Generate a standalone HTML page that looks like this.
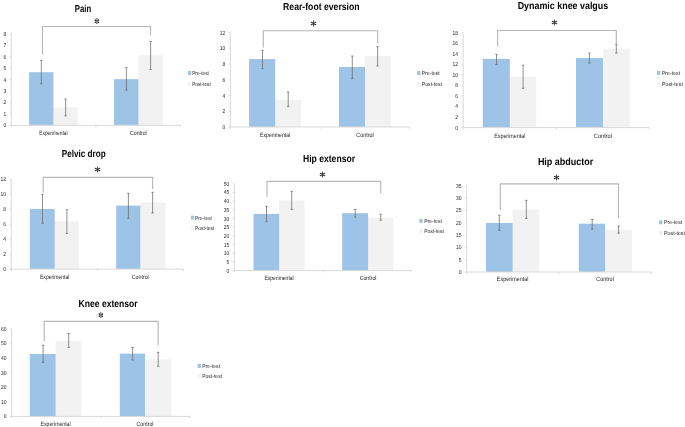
<!DOCTYPE html><html><head><meta charset="utf-8"><style>html,body{margin:0;padding:0;background:#fff;width:685px;height:427px;overflow:hidden}svg{display:block;will-change:transform}text{font-family:"Liberation Sans",sans-serif;text-rendering:geometricPrecision}</style></head><body>
<svg width="685" height="427" viewBox="0 0 685 427">
<rect width="685" height="427" fill="#fff"/>
<g><rect x="53.4" y="107.4" width="24.3" height="17.9" fill="#f2f2f2"/><rect x="52.4" y="107.4" width="1.2" height="17.9" fill="#f2f2f2"/><rect x="29.1" y="72.2" width="24.3" height="53.1" fill="#9dc3e6"/><rect x="138.4" y="55.2" width="24.4" height="70.1" fill="#f2f2f2"/><rect x="137.4" y="79.2" width="1.2" height="46.1" fill="#f2f2f2"/><rect x="114.1" y="79.2" width="24.3" height="46.1" fill="#9dc3e6"/><path d="M11.25 33.7V125.3M9.75 125.3H180.4" stroke="#d9d9d9" stroke-width="1" fill="none"/><path d="M9.75 33.7H11.25M9.75 45.15H11.25M9.75 56.6H11.25M9.75 68.05H11.25M9.75 79.5H11.25M9.75 90.95H11.25M9.75 102.4H11.25M9.75 113.85H11.25M9.75 125.3H11.25M11.25 125.3V127.1M95.9 125.3V127.1M180.4 125.3V127.1" stroke="#d9d9d9" stroke-width="1" fill="none"/><text x="6.15" y="127.3" font-size="5.8" fill="#262626" text-anchor="end" textLength="2.75" lengthAdjust="spacingAndGlyphs">0</text><text x="6.15" y="115.85" font-size="5.8" fill="#262626" text-anchor="end" textLength="2.75" lengthAdjust="spacingAndGlyphs">1</text><text x="6.15" y="104.4" font-size="5.8" fill="#262626" text-anchor="end" textLength="2.75" lengthAdjust="spacingAndGlyphs">2</text><text x="6.15" y="92.95" font-size="5.8" fill="#262626" text-anchor="end" textLength="2.75" lengthAdjust="spacingAndGlyphs">3</text><text x="6.15" y="81.5" font-size="5.8" fill="#262626" text-anchor="end" textLength="2.75" lengthAdjust="spacingAndGlyphs">4</text><text x="6.15" y="70.05" font-size="5.8" fill="#262626" text-anchor="end" textLength="2.75" lengthAdjust="spacingAndGlyphs">5</text><text x="6.15" y="58.6" font-size="5.8" fill="#262626" text-anchor="end" textLength="2.75" lengthAdjust="spacingAndGlyphs">6</text><text x="6.15" y="47.15" font-size="5.8" fill="#262626" text-anchor="end" textLength="2.75" lengthAdjust="spacingAndGlyphs">7</text><text x="6.15" y="35.7" font-size="5.8" fill="#262626" text-anchor="end" textLength="2.75" lengthAdjust="spacingAndGlyphs">8</text><path d="M41.3 60.4V83.9M40.1 60.4H42.5M40.1 83.9H42.5" stroke="#6a6a6a" stroke-width="0.75" fill="none"/><path d="M65.6 99V115.9M64.4 99H66.8M64.4 115.9H66.8" stroke="#6a6a6a" stroke-width="0.75" fill="none"/><path d="M126.4 67.7V90.2M125.2 67.7H127.6M125.2 90.2H127.6" stroke="#6a6a6a" stroke-width="0.75" fill="none"/><path d="M150.6 41.5V69.6M149.4 41.5H151.8M149.4 69.6H151.8" stroke="#6a6a6a" stroke-width="0.75" fill="none"/><path d="M42.5 54.6V26.5H150.5V35.5" stroke="#b8b8b8" stroke-width="1.15" fill="none"/><path d="M96.8 18.5V23.6M95.3 20.15L98.3 22.25M98.3 20.15L95.3 22.25" stroke="#5a5a5a" stroke-width="0.7" fill="none"/><g fill="#1e1e1e"><circle cx="95.35" cy="20.15" r="0.8"/><circle cx="98.25" cy="20.15" r="0.8"/><circle cx="95.35" cy="22.25" r="0.8"/><circle cx="98.25" cy="22.25" r="0.8"/></g><g fill="#666"><circle cx="96.8" cy="18.7" r="0.65"/><circle cx="96.8" cy="23.4" r="0.65"/></g><text x="74.8" y="11.7" font-size="10.2" font-weight="bold" fill="#000" textLength="16.3" lengthAdjust="spacingAndGlyphs">Pain</text><rect x="187.9" y="71.05" width="3.3" height="3.9" fill="#9dc3e6"/><rect x="187.9" y="81.85" width="3.3" height="3.9" fill="#f2f2f2"/><text x="192.2" y="75.05" font-size="5.7" fill="#262626" textLength="16.7" lengthAdjust="spacingAndGlyphs">Pre-test</text><text x="192.2" y="85.85" font-size="5.7" fill="#262626" textLength="18.6" lengthAdjust="spacingAndGlyphs">Post-test</text><text x="39.3" y="135.1" font-size="6.2" fill="#262626" textLength="28.2" lengthAdjust="spacingAndGlyphs">Experimental</text><text x="130.05" y="135.1" font-size="6.2" fill="#262626" textLength="16.7" lengthAdjust="spacingAndGlyphs">Control</text></g>
<g><rect x="275.2" y="99.8" width="25.9" height="27.2" fill="#f2f2f2"/><rect x="274.2" y="99.8" width="1.2" height="27.2" fill="#f2f2f2"/><rect x="249.1" y="59.1" width="26.1" height="67.9" fill="#9dc3e6"/><rect x="365" y="56" width="25.8" height="71" fill="#f2f2f2"/><rect x="364" y="67" width="1.2" height="60" fill="#f2f2f2"/><rect x="339" y="67" width="26" height="60" fill="#9dc3e6"/><path d="M230.3 32.5V127M228.8 127H409.5" stroke="#d9d9d9" stroke-width="1" fill="none"/><path d="M228.8 32.5H230.3M228.8 48.25H230.3M228.8 64H230.3M228.8 79.75H230.3M228.8 95.5H230.3M228.8 111.25H230.3M228.8 127H230.3M230.3 127V128.8M320.1 127V128.8M409.5 127V128.8" stroke="#d9d9d9" stroke-width="1" fill="none"/><text x="225.2" y="129" font-size="5.8" fill="#262626" text-anchor="end" textLength="2.75" lengthAdjust="spacingAndGlyphs">0</text><text x="225.2" y="113.25" font-size="5.8" fill="#262626" text-anchor="end" textLength="2.75" lengthAdjust="spacingAndGlyphs">2</text><text x="225.2" y="97.5" font-size="5.8" fill="#262626" text-anchor="end" textLength="2.75" lengthAdjust="spacingAndGlyphs">4</text><text x="225.2" y="81.75" font-size="5.8" fill="#262626" text-anchor="end" textLength="2.75" lengthAdjust="spacingAndGlyphs">6</text><text x="225.2" y="66" font-size="5.8" fill="#262626" text-anchor="end" textLength="2.75" lengthAdjust="spacingAndGlyphs">8</text><text x="225.2" y="50.25" font-size="5.8" fill="#262626" text-anchor="end" textLength="5.5" lengthAdjust="spacingAndGlyphs">10</text><text x="225.2" y="34.5" font-size="5.8" fill="#262626" text-anchor="end" textLength="5.5" lengthAdjust="spacingAndGlyphs">12</text><path d="M262.5 50.3V68.6M261.3 50.3H263.7M261.3 68.6H263.7" stroke="#6a6a6a" stroke-width="0.75" fill="none"/><path d="M288.2 92.1V106.6M287 92.1H289.4M287 106.6H289.4" stroke="#6a6a6a" stroke-width="0.75" fill="none"/><path d="M352.3 56V78.7M351.1 56H353.5M351.1 78.7H353.5" stroke="#6a6a6a" stroke-width="0.75" fill="none"/><path d="M377.6 46.7V66M376.4 46.7H378.8M376.4 66H378.8" stroke="#6a6a6a" stroke-width="0.75" fill="none"/><path d="M263.3 47.7V30.7H377.6V43.1" stroke="#b8b8b8" stroke-width="1.15" fill="none"/><path d="M313.5 20.9V26.1" stroke="#4a4a4a" stroke-width="1" stroke-linecap="round" fill="none"/><path d="M311.25 22.2L315.75 24.8M315.75 22.2L311.25 24.8" stroke="#2a2a2a" stroke-width="1.05" stroke-linecap="round" fill="none"/><text x="283.1" y="9.8" font-size="10.2" font-weight="bold" fill="#000" textLength="76.5" lengthAdjust="spacingAndGlyphs">Rear-foot eversion</text><rect x="417.1" y="71.05" width="3.3" height="3.9" fill="#9dc3e6"/><rect x="417.1" y="82.25" width="3.3" height="3.9" fill="#f2f2f2"/><text x="421.8" y="75.05" font-size="5.7" fill="#262626" textLength="18" lengthAdjust="spacingAndGlyphs">Pre-test</text><text x="421.8" y="86.25" font-size="5.7" fill="#262626" textLength="20.3" lengthAdjust="spacingAndGlyphs">Post-test</text><text x="260.05" y="137" font-size="6.2" fill="#262626" textLength="30.3" lengthAdjust="spacingAndGlyphs">Experimental</text><text x="356.25" y="137" font-size="6.2" fill="#262626" textLength="17.5" lengthAdjust="spacingAndGlyphs">Control</text></g>
<g><rect x="509.8" y="76.8" width="26.4" height="50.8" fill="#f2f2f2"/><rect x="508.8" y="76.8" width="1.2" height="50.8" fill="#f2f2f2"/><rect x="482.8" y="58.9" width="27" height="68.7" fill="#9dc3e6"/><rect x="602.9" y="48.7" width="26.9" height="78.9" fill="#f2f2f2"/><rect x="601.9" y="58.1" width="1.2" height="69.5" fill="#f2f2f2"/><rect x="576" y="58.1" width="26.9" height="69.5" fill="#9dc3e6"/><path d="M463.2 32.6V127.6M461.7 127.6H649.3" stroke="#d9d9d9" stroke-width="1" fill="none"/><path d="M461.7 32.6H463.2M461.7 43.16H463.2M461.7 53.71H463.2M461.7 64.27H463.2M461.7 74.82H463.2M461.7 85.38H463.2M461.7 95.93H463.2M461.7 106.49H463.2M461.7 117.04H463.2M461.7 127.6H463.2M463.2 127.6V129.4M556.4 127.6V129.4M649.3 127.6V129.4" stroke="#d9d9d9" stroke-width="1" fill="none"/><text x="458.1" y="129.6" font-size="5.8" fill="#262626" text-anchor="end" textLength="2.75" lengthAdjust="spacingAndGlyphs">0</text><text x="458.1" y="119.04" font-size="5.8" fill="#262626" text-anchor="end" textLength="2.75" lengthAdjust="spacingAndGlyphs">2</text><text x="458.1" y="108.49" font-size="5.8" fill="#262626" text-anchor="end" textLength="2.75" lengthAdjust="spacingAndGlyphs">4</text><text x="458.1" y="97.93" font-size="5.8" fill="#262626" text-anchor="end" textLength="2.75" lengthAdjust="spacingAndGlyphs">6</text><text x="458.1" y="87.38" font-size="5.8" fill="#262626" text-anchor="end" textLength="2.75" lengthAdjust="spacingAndGlyphs">8</text><text x="458.1" y="76.82" font-size="5.8" fill="#262626" text-anchor="end" textLength="5.5" lengthAdjust="spacingAndGlyphs">10</text><text x="458.1" y="66.27" font-size="5.8" fill="#262626" text-anchor="end" textLength="5.5" lengthAdjust="spacingAndGlyphs">12</text><text x="458.1" y="55.71" font-size="5.8" fill="#262626" text-anchor="end" textLength="5.5" lengthAdjust="spacingAndGlyphs">14</text><text x="458.1" y="45.16" font-size="5.8" fill="#262626" text-anchor="end" textLength="5.5" lengthAdjust="spacingAndGlyphs">16</text><text x="458.1" y="34.6" font-size="5.8" fill="#262626" text-anchor="end" textLength="5.5" lengthAdjust="spacingAndGlyphs">18</text><path d="M496.5 54.3V64.5M495.3 54.3H497.7M495.3 64.5H497.7" stroke="#6a6a6a" stroke-width="0.75" fill="none"/><path d="M523.1 65.2V88.3M521.9 65.2H524.3M521.9 88.3H524.3" stroke="#6a6a6a" stroke-width="0.75" fill="none"/><path d="M589.4 53.1V63.1M588.2 53.1H590.6M588.2 63.1H590.6" stroke="#6a6a6a" stroke-width="0.75" fill="none"/><path d="M616.3 44.3V53.1M615.1 44.3H617.5M615.1 53.1H617.5" stroke="#6a6a6a" stroke-width="0.75" fill="none"/><path d="M497.6 46.6V30.5H616.3V44.1" stroke="#b8b8b8" stroke-width="1.15" fill="none"/><path d="M554.5 19.9V25.1" stroke="#4a4a4a" stroke-width="1" stroke-linecap="round" fill="none"/><path d="M552.25 21.2L556.75 23.8M556.75 21.2L552.25 23.8" stroke="#2a2a2a" stroke-width="1.05" stroke-linecap="round" fill="none"/><text x="517.7" y="9" font-size="10.2" font-weight="bold" fill="#000" textLength="90.5" lengthAdjust="spacingAndGlyphs">Dynamic knee valgus</text><rect x="657" y="70.95" width="3.3" height="3.9" fill="#9dc3e6"/><rect x="657" y="82.35" width="3.3" height="3.9" fill="#f2f2f2"/><text x="661.9" y="74.95" font-size="5.7" fill="#262626" textLength="18.2" lengthAdjust="spacingAndGlyphs">Pre-test</text><text x="661.9" y="86.35" font-size="5.7" fill="#262626" textLength="21" lengthAdjust="spacingAndGlyphs">Post-test</text><text x="494.15" y="137.6" font-size="6.2" fill="#262626" textLength="31.3" lengthAdjust="spacingAndGlyphs">Experimental</text><text x="593.85" y="137.6" font-size="6.2" fill="#262626" textLength="18.1" lengthAdjust="spacingAndGlyphs">Control</text></g>
<g><rect x="54.7" y="221.5" width="24.1" height="47.6" fill="#f2f2f2"/><rect x="53.7" y="221.5" width="1.2" height="47.6" fill="#f2f2f2"/><rect x="29.9" y="209" width="24.8" height="60.1" fill="#9dc3e6"/><rect x="140.3" y="202.5" width="25.2" height="66.6" fill="#f2f2f2"/><rect x="139.3" y="205.6" width="1.2" height="63.5" fill="#f2f2f2"/><rect x="116.2" y="205.6" width="24.1" height="63.5" fill="#9dc3e6"/><path d="M11.2 179.4V269.1M9.7 269.1H183.5" stroke="#d9d9d9" stroke-width="1" fill="none"/><path d="M9.7 179.4H11.2M9.7 194.35H11.2M9.7 209.3H11.2M9.7 224.25H11.2M9.7 239.2H11.2M9.7 254.15H11.2M9.7 269.1H11.2M11.2 269.1V270.9M97.5 269.1V270.9M183.5 269.1V270.9" stroke="#d9d9d9" stroke-width="1" fill="none"/><text x="6.1" y="271.1" font-size="5.8" fill="#262626" text-anchor="end" textLength="2.75" lengthAdjust="spacingAndGlyphs">0</text><text x="6.1" y="256.15" font-size="5.8" fill="#262626" text-anchor="end" textLength="2.75" lengthAdjust="spacingAndGlyphs">2</text><text x="6.1" y="241.2" font-size="5.8" fill="#262626" text-anchor="end" textLength="2.75" lengthAdjust="spacingAndGlyphs">4</text><text x="6.1" y="226.25" font-size="5.8" fill="#262626" text-anchor="end" textLength="2.75" lengthAdjust="spacingAndGlyphs">6</text><text x="6.1" y="211.3" font-size="5.8" fill="#262626" text-anchor="end" textLength="2.75" lengthAdjust="spacingAndGlyphs">8</text><text x="6.1" y="196.35" font-size="5.8" fill="#262626" text-anchor="end" textLength="5.5" lengthAdjust="spacingAndGlyphs">10</text><text x="6.1" y="181.4" font-size="5.8" fill="#262626" text-anchor="end" textLength="5.5" lengthAdjust="spacingAndGlyphs">12</text><path d="M42.5 194.4V223.2M41.3 194.4H43.7M41.3 223.2H43.7" stroke="#6a6a6a" stroke-width="0.75" fill="none"/><path d="M66.9 209.7V233.4M65.7 209.7H68.1M65.7 233.4H68.1" stroke="#6a6a6a" stroke-width="0.75" fill="none"/><path d="M128.4 193.3V218.2M127.2 193.3H129.6M127.2 218.2H129.6" stroke="#6a6a6a" stroke-width="0.75" fill="none"/><path d="M152.6 192.3V213M151.4 192.3H153.8M151.4 213H153.8" stroke="#6a6a6a" stroke-width="0.75" fill="none"/><path d="M43.2 192.8V177.4H152.6V189.3" stroke="#b8b8b8" stroke-width="1.15" fill="none"/><path d="M97.5 166.9V172.1" stroke="#4a4a4a" stroke-width="1" stroke-linecap="round" fill="none"/><path d="M95.25 168.2L99.75 170.8M99.75 168.2L95.25 170.8" stroke="#2a2a2a" stroke-width="1.05" stroke-linecap="round" fill="none"/><text x="61.8" y="157.1" font-size="10.2" font-weight="bold" fill="#000" textLength="43.8" lengthAdjust="spacingAndGlyphs">Pelvic drop</text><rect x="190.9" y="215.65" width="3.3" height="3.9" fill="#9dc3e6"/><rect x="190.9" y="226.25" width="3.3" height="3.9" fill="#f2f2f2"/><text x="195.1" y="219.65" font-size="5.7" fill="#262626" textLength="16.8" lengthAdjust="spacingAndGlyphs">Pre-test</text><text x="195.1" y="230.25" font-size="5.7" fill="#262626" textLength="19.1" lengthAdjust="spacingAndGlyphs">Post-test</text><text x="40" y="278.9" font-size="6.2" fill="#262626" textLength="29.4" lengthAdjust="spacingAndGlyphs">Experimental</text><text x="131.8" y="278.9" font-size="6.2" fill="#262626" textLength="17" lengthAdjust="spacingAndGlyphs">Control</text></g>
<g><rect x="279.1" y="200.3" width="25.6" height="70.3" fill="#f2f2f2"/><rect x="278.1" y="213.9" width="1.2" height="56.7" fill="#f2f2f2"/><rect x="253.5" y="213.9" width="25.6" height="56.7" fill="#9dc3e6"/><rect x="368.1" y="217.8" width="25.2" height="52.8" fill="#f2f2f2"/><rect x="367.1" y="217.8" width="1.2" height="52.8" fill="#f2f2f2"/><rect x="342.2" y="213.2" width="25.9" height="57.4" fill="#9dc3e6"/><path d="M234.3 183.8V270.6M232.8 270.6H411.2" stroke="#d9d9d9" stroke-width="1" fill="none"/><path d="M232.8 183.8H234.3M232.8 192.48H234.3M232.8 201.16H234.3M232.8 209.84H234.3M232.8 218.52H234.3M232.8 227.2H234.3M232.8 235.88H234.3M232.8 244.56H234.3M232.8 253.24H234.3M232.8 261.92H234.3M232.8 270.6H234.3M234.3 270.6V272.4M323.3 270.6V272.4M411.2 270.6V272.4" stroke="#d9d9d9" stroke-width="1" fill="none"/><text x="229.2" y="272.6" font-size="5.8" fill="#262626" text-anchor="end" textLength="2.75" lengthAdjust="spacingAndGlyphs">0</text><text x="229.2" y="263.92" font-size="5.8" fill="#262626" text-anchor="end" textLength="2.75" lengthAdjust="spacingAndGlyphs">5</text><text x="229.2" y="255.24" font-size="5.8" fill="#262626" text-anchor="end" textLength="5.5" lengthAdjust="spacingAndGlyphs">10</text><text x="229.2" y="246.56" font-size="5.8" fill="#262626" text-anchor="end" textLength="5.5" lengthAdjust="spacingAndGlyphs">15</text><text x="229.2" y="237.88" font-size="5.8" fill="#262626" text-anchor="end" textLength="5.5" lengthAdjust="spacingAndGlyphs">20</text><text x="229.2" y="229.2" font-size="5.8" fill="#262626" text-anchor="end" textLength="5.5" lengthAdjust="spacingAndGlyphs">25</text><text x="229.2" y="220.52" font-size="5.8" fill="#262626" text-anchor="end" textLength="5.5" lengthAdjust="spacingAndGlyphs">30</text><text x="229.2" y="211.84" font-size="5.8" fill="#262626" text-anchor="end" textLength="5.5" lengthAdjust="spacingAndGlyphs">35</text><text x="229.2" y="203.16" font-size="5.8" fill="#262626" text-anchor="end" textLength="5.5" lengthAdjust="spacingAndGlyphs">40</text><text x="229.2" y="194.48" font-size="5.8" fill="#262626" text-anchor="end" textLength="5.5" lengthAdjust="spacingAndGlyphs">45</text><text x="229.2" y="185.8" font-size="5.8" fill="#262626" text-anchor="end" textLength="5.5" lengthAdjust="spacingAndGlyphs">50</text><path d="M266.5 206.4V221.6M265.3 206.4H267.7M265.3 221.6H267.7" stroke="#6a6a6a" stroke-width="0.75" fill="none"/><path d="M291.7 191.4V209.4M290.5 191.4H292.9M290.5 209.4H292.9" stroke="#6a6a6a" stroke-width="0.75" fill="none"/><path d="M355.2 209.4V217.1M354 209.4H356.4M354 217.1H356.4" stroke="#6a6a6a" stroke-width="0.75" fill="none"/><path d="M380.7 214.3V220.2M379.5 214.3H381.9M379.5 220.2H381.9" stroke="#6a6a6a" stroke-width="0.75" fill="none"/><path d="M267 197V181.3H380.7V193.3" stroke="#b8b8b8" stroke-width="1.15" fill="none"/><path d="M322.5 171.9V177.1" stroke="#4a4a4a" stroke-width="1" stroke-linecap="round" fill="none"/><path d="M320.25 173.2L324.75 175.8M324.75 173.2L320.25 175.8" stroke="#2a2a2a" stroke-width="1.05" stroke-linecap="round" fill="none"/><text x="303" y="162" font-size="10.2" font-weight="bold" fill="#000" textLength="52" lengthAdjust="spacingAndGlyphs">Hip extensor</text><rect x="419.3" y="218.95" width="3.3" height="3.9" fill="#9dc3e6"/><rect x="419.3" y="229.25" width="3.3" height="3.9" fill="#f2f2f2"/><text x="424.2" y="222.95" font-size="5.7" fill="#262626" textLength="17.7" lengthAdjust="spacingAndGlyphs">Pre-test</text><text x="424.2" y="233.25" font-size="5.7" fill="#262626" textLength="19.8" lengthAdjust="spacingAndGlyphs">Post-test</text><text x="264.5" y="280" font-size="6.2" fill="#262626" textLength="29.2" lengthAdjust="spacingAndGlyphs">Experimental</text><text x="359.65" y="280" font-size="6.2" fill="#262626" textLength="16.9" lengthAdjust="spacingAndGlyphs">Control</text></g>
<g><rect x="512.6" y="209.7" width="26.6" height="62.3" fill="#f2f2f2"/><rect x="511.6" y="223" width="1.2" height="49" fill="#f2f2f2"/><rect x="486" y="223" width="26.6" height="49" fill="#9dc3e6"/><rect x="605.1" y="229.7" width="27" height="42.3" fill="#f2f2f2"/><rect x="604.1" y="229.7" width="1.2" height="42.3" fill="#f2f2f2"/><rect x="578.8" y="223.7" width="26.3" height="48.3" fill="#9dc3e6"/><path d="M466.7 185.5V272M465.2 272H651.7" stroke="#d9d9d9" stroke-width="1" fill="none"/><path d="M465.2 185.5H466.7M465.2 197.86H466.7M465.2 210.21H466.7M465.2 222.57H466.7M465.2 234.93H466.7M465.2 247.29H466.7M465.2 259.64H466.7M465.2 272H466.7M466.7 272V273.8M558.9 272V273.8M651.7 272V273.8" stroke="#d9d9d9" stroke-width="1" fill="none"/><text x="461.6" y="274" font-size="5.8" fill="#262626" text-anchor="end" textLength="2.75" lengthAdjust="spacingAndGlyphs">0</text><text x="461.6" y="261.64" font-size="5.8" fill="#262626" text-anchor="end" textLength="2.75" lengthAdjust="spacingAndGlyphs">5</text><text x="461.6" y="249.29" font-size="5.8" fill="#262626" text-anchor="end" textLength="5.5" lengthAdjust="spacingAndGlyphs">10</text><text x="461.6" y="236.93" font-size="5.8" fill="#262626" text-anchor="end" textLength="5.5" lengthAdjust="spacingAndGlyphs">15</text><text x="461.6" y="224.57" font-size="5.8" fill="#262626" text-anchor="end" textLength="5.5" lengthAdjust="spacingAndGlyphs">20</text><text x="461.6" y="212.21" font-size="5.8" fill="#262626" text-anchor="end" textLength="5.5" lengthAdjust="spacingAndGlyphs">25</text><text x="461.6" y="199.86" font-size="5.8" fill="#262626" text-anchor="end" textLength="5.5" lengthAdjust="spacingAndGlyphs">30</text><text x="461.6" y="187.5" font-size="5.8" fill="#262626" text-anchor="end" textLength="5.5" lengthAdjust="spacingAndGlyphs">35</text><path d="M499.3 215.3V230.4M498.1 215.3H500.5M498.1 230.4H500.5" stroke="#6a6a6a" stroke-width="0.75" fill="none"/><path d="M526.3 200.3V218.5M525.1 200.3H527.5M525.1 218.5H527.5" stroke="#6a6a6a" stroke-width="0.75" fill="none"/><path d="M592.2 219.5V229.2M591 219.5H593.4M591 229.2H593.4" stroke="#6a6a6a" stroke-width="0.75" fill="none"/><path d="M618.6 226.2V233.2M617.4 226.2H619.8M617.4 233.2H619.8" stroke="#6a6a6a" stroke-width="0.75" fill="none"/><path d="M500.3 209.9V183.8H618.5V218" stroke="#b8b8b8" stroke-width="1.15" fill="none"/><path d="M556.5 174.9V180.1" stroke="#4a4a4a" stroke-width="1" stroke-linecap="round" fill="none"/><path d="M554.25 176.2L558.75 178.8M558.75 176.2L554.25 178.8" stroke="#2a2a2a" stroke-width="1.05" stroke-linecap="round" fill="none"/><text x="537.9" y="165" font-size="10.2" font-weight="bold" fill="#000" textLength="55.3" lengthAdjust="spacingAndGlyphs">Hip abductor</text><rect x="659.1" y="220.35" width="3.3" height="3.9" fill="#9dc3e6"/><rect x="659.1" y="231.05" width="3.3" height="3.9" fill="#f2f2f2"/><text x="664" y="224.35" font-size="5.7" fill="#262626" textLength="18.2" lengthAdjust="spacingAndGlyphs">Pre-test</text><text x="664" y="235.05" font-size="5.7" fill="#262626" textLength="21" lengthAdjust="spacingAndGlyphs">Post-test</text><text x="496.85" y="281" font-size="6.2" fill="#262626" textLength="31.5" lengthAdjust="spacingAndGlyphs">Experimental</text><text x="596.35" y="281" font-size="6.2" fill="#262626" textLength="17.5" lengthAdjust="spacingAndGlyphs">Control</text></g>
<g><rect x="55.6" y="340.9" width="25.7" height="75.5" fill="#f2f2f2"/><rect x="54.6" y="354" width="1.2" height="62.4" fill="#f2f2f2"/><rect x="29.8" y="354" width="25.8" height="62.4" fill="#9dc3e6"/><rect x="145" y="359.3" width="26.3" height="57.1" fill="#f2f2f2"/><rect x="144" y="359.3" width="1.2" height="57.1" fill="#f2f2f2"/><rect x="119.8" y="353.6" width="25.2" height="62.8" fill="#9dc3e6"/><path d="M11.6 328.8V416.4M10.1 416.4H190.3" stroke="#d9d9d9" stroke-width="1" fill="none"/><path d="M10.1 328.8H11.6M10.1 343.4H11.6M10.1 358H11.6M10.1 372.6H11.6M10.1 387.2H11.6M10.1 401.8H11.6M10.1 416.4H11.6M11.6 416.4V418.2M100.6 416.4V418.2M190.3 416.4V418.2" stroke="#d9d9d9" stroke-width="1" fill="none"/><text x="6.5" y="418.4" font-size="5.8" fill="#262626" text-anchor="end" textLength="2.75" lengthAdjust="spacingAndGlyphs">0</text><text x="6.5" y="403.8" font-size="5.8" fill="#262626" text-anchor="end" textLength="5.5" lengthAdjust="spacingAndGlyphs">10</text><text x="6.5" y="389.2" font-size="5.8" fill="#262626" text-anchor="end" textLength="5.5" lengthAdjust="spacingAndGlyphs">20</text><text x="6.5" y="374.6" font-size="5.8" fill="#262626" text-anchor="end" textLength="5.5" lengthAdjust="spacingAndGlyphs">30</text><text x="6.5" y="360" font-size="5.8" fill="#262626" text-anchor="end" textLength="5.5" lengthAdjust="spacingAndGlyphs">40</text><text x="6.5" y="345.4" font-size="5.8" fill="#262626" text-anchor="end" textLength="5.5" lengthAdjust="spacingAndGlyphs">50</text><text x="6.5" y="330.8" font-size="5.8" fill="#262626" text-anchor="end" textLength="5.5" lengthAdjust="spacingAndGlyphs">60</text><path d="M43.1 345.3V362.4M41.9 345.3H44.3M41.9 362.4H44.3" stroke="#6a6a6a" stroke-width="0.75" fill="none"/><path d="M68.7 333.4V347.4M67.5 333.4H69.9M67.5 347.4H69.9" stroke="#6a6a6a" stroke-width="0.75" fill="none"/><path d="M132.6 347.4V360M131.4 347.4H133.8M131.4 360H133.8" stroke="#6a6a6a" stroke-width="0.75" fill="none"/><path d="M158.2 352.3V366.3M157 352.3H159.4M157 366.3H159.4" stroke="#6a6a6a" stroke-width="0.75" fill="none"/><path d="M44.2 341.2V321.4H158.1V345.2" stroke="#b8b8b8" stroke-width="1.15" fill="none"/><path d="M100.8 312.5V317.6M99.3 314.15L102.3 316.25M102.3 314.15L99.3 316.25" stroke="#5a5a5a" stroke-width="0.7" fill="none"/><g fill="#1e1e1e"><circle cx="99.35" cy="314.15" r="0.8"/><circle cx="102.25" cy="314.15" r="0.8"/><circle cx="99.35" cy="316.25" r="0.8"/><circle cx="102.25" cy="316.25" r="0.8"/></g><g fill="#666"><circle cx="100.8" cy="312.7" r="0.65"/><circle cx="100.8" cy="317.4" r="0.65"/></g><text x="78.6" y="307" font-size="10.2" font-weight="bold" fill="#000" textLength="59" lengthAdjust="spacingAndGlyphs">Knee extensor</text><rect x="197.6" y="363.95" width="3.3" height="3.9" fill="#9dc3e6"/><rect x="197.6" y="374.45" width="3.3" height="3.9" fill="#f2f2f2"/><text x="202.2" y="367.95" font-size="5.7" fill="#262626" textLength="17.9" lengthAdjust="spacingAndGlyphs">Pre-test</text><text x="202.2" y="378.45" font-size="5.7" fill="#262626" textLength="19.9" lengthAdjust="spacingAndGlyphs">Post-test</text><text x="40.55" y="425.7" font-size="6.2" fill="#262626" textLength="30.1" lengthAdjust="spacingAndGlyphs">Experimental</text><text x="136.45" y="425.7" font-size="6.2" fill="#262626" textLength="17.1" lengthAdjust="spacingAndGlyphs">Control</text></g>
</svg></body></html>
